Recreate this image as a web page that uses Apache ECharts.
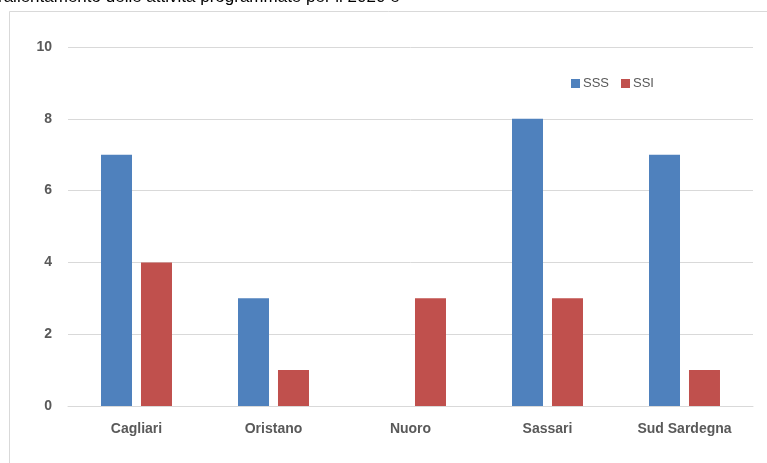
<!DOCTYPE html>
<html>
<head>
<meta charset="utf-8">
<script src="https://cdn.jsdelivr.net/npm/echarts@6/dist/echarts.min.js"></script>
<style>
  html, body { margin: 0; padding: 0; background: #fff; }
  #chart { width: 767px; height: 463px; }
</style>
</head>
<body>
<div id="chart"></div>
<script>
// dati
var province = ['Cagliari', 'Oristano', 'Nuoro', 'Sassari', 'Sud Sardegna'];
var sss = [7, 3, 0, 8, 7];
var ssi = [4, 1, 3, 3, 1];
var yTicks = [0, 2, 4, 6, 8, 10];

var chart = echarts.init(document.getElementById('chart'));
var option = {
    backgroundColor: '#fff',
    animation: false,
    graphic: [
        {
            type: 'text',
            left: -2,
            top: -11,
            style: {
                text: 'rallentamento delle attività programmate per il 2020 e',
                fontFamily: 'Liberation Sans, Arial, sans-serif',
                fontSize: 17,
                fill: '#000'
            }
        },
        {
            type: 'rect',
            shape: { x: 9.5, y: 11.5, width: 800, height: 500 },
            style: { fill: 'none', stroke: '#d9d9d9', lineWidth: 1 }
        }
    ],
    legend: {
        left: 566,
        top: 72,
        itemWidth: 9,
        itemHeight: 9,
        itemGap: 12,
        icon: 'rect',
        textStyle: {
            color: '#595959',
            fontSize: 13,
            padding: [0, 0, 0, -2],
            fontFamily: 'Liberation Sans, Arial, sans-serif'
        },
        data: ['SSS', 'SSI']
    },
    grid: {
        left: 68,
        right: 14,
        top: 47,
        bottom: 57
    },
    xAxis: {
        type: 'category',
        data: province,
        axisLine: { lineStyle: { color: '#d9d9d9' } },
        axisTick: { show: false },
        axisLabel: {
            color: '#595959',
            fontSize: 14,
            fontWeight: 'bold',
            margin: 16,
            fontFamily: 'Liberation Sans, Arial, sans-serif'
        }
    },
    yAxis: {
        type: 'value',
        min: yTicks[0],
        max: yTicks[yTicks.length - 1],
        interval: 2,
        axisLine: { show: false },
        axisTick: { show: false },
        splitLine: { lineStyle: { color: '#d9d9d9' } },
        axisLabel: {
            color: '#595959',
            fontSize: 14,
            fontWeight: 'bold',
            margin: 16,
            fontFamily: 'Liberation Sans, Arial, sans-serif'
        }
    },
    series: [
        {
            name: 'SSS',
            type: 'bar',
            data: sss,
            barWidth: 31,
            barGap: '29%',
            itemStyle: { color: '#4f81bd' }
        },
        {
            name: 'SSI',
            type: 'bar',
            data: ssi,
            barWidth: 31,
            itemStyle: { color: '#c0504d' }
        }
    ]
};
chart.setOption(option);
</script>
</body>
</html>
